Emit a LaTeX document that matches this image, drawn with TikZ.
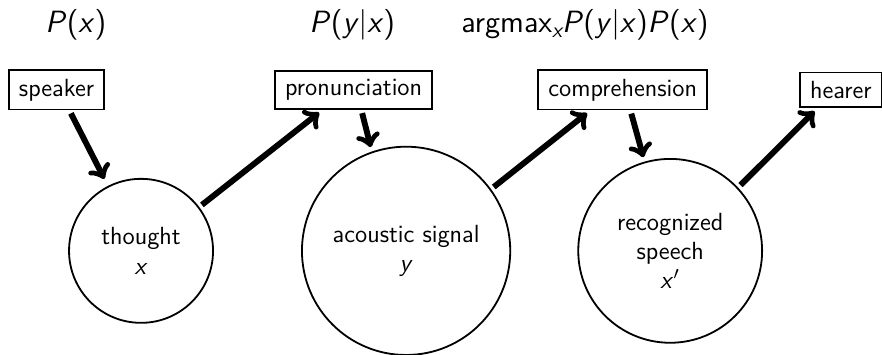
\documentclass[tikz,border=0pt]{standalone}
\usepackage{amsmath}
\usepackage{tikz}
\usetikzlibrary{positioning}
\renewcommand{\familydefault}{\sfdefault}
\newcommand{\mv}[1]{\textsf{\itshape #1}}

\begin{document}
\begin{tikzpicture}[font=\sffamily\fontsize{11}{13}\selectfont, >=to,
    word/.style={draw=black, thick, inner xsep=4.5pt, inner ysep=3.8pt},
    state/.style={draw=black, thick, circle, align=center, inner sep=0pt},
    prob/.style={anchor=base, font=\sffamily\fontsize{13.6}{16}\selectfont},
    flow/.style={->, line width=2.6pt, shorten <=1.5pt, shorten >=2pt}]
  \useasboundingbox (0,0) rectangle (13.72,5.52);
  % probabilities on top
  \node[prob] (px) at (1.18,5.01) {\mv{P}(\mv{x})};
  \node[prob] (pyx) at (5.48,5.01) {\mv{P}(\mv{y}|\mv{x})};
  \node[prob] (amax) at (9.10,5.01) {argmax\raisebox{-0.35ex}{\fontsize{9.5}{10}\selectfont\itshape x}\mv{P}(\mv{y}|\mv{x})\mv{P}(\mv{x})};
  % boxes
  \node[word] (speaker) at (0.879,4.123) {speaker};
  \node[word] (pron) at (5.50,4.123) {pronunciation};
  \node[word] (comp) at (9.686,4.123) {comprehension};
  \node[word] (hearer) at (13.08,4.123) {hearer};
  % states
  \node[state, minimum size=2.24cm] (thought) at (2.194,1.618) {thought\\ \mv{x}};
  \node[state, minimum size=3.24cm] (signal) at (6.317,1.618) {acoustic signal\\ \mv{y}};
  \node[state, minimum size=2.86cm] (recog) at (10.425,1.618) {recognized\\ speech\\ \mv{x}$'$};
  % chain
  \draw[flow, shorten >=3.5pt] ([xshift=0.2cm]speaker.south) -- (thought.117);
  \draw[flow] (thought.37) -- ([xshift=-0.48cm]pron.south);
  \draw[flow] ([xshift=0.12cm]pron.south) -- (signal.109);
  \draw[flow] (signal.36) -- ([xshift=-0.5cm]comp.south);
  \draw[flow] ([xshift=0.12cm]comp.south) -- (recog.106);
  \draw[flow] (recog.43) -- ([xshift=-0.36cm]hearer.south);
\end{tikzpicture}
\end{document}
